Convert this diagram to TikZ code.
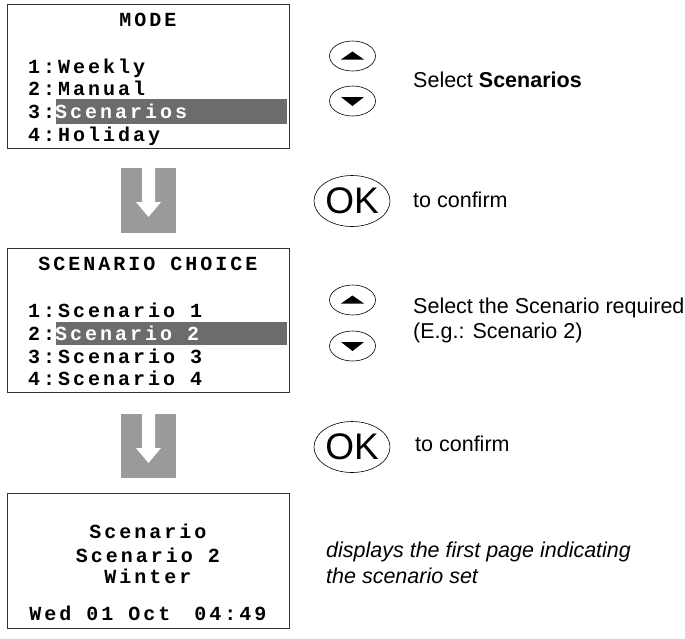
\documentclass[tikz,border=0pt]{standalone}
\usepackage{fontspec}
\setmainfont{Liberation Sans}
\newfontfamily\lcdfont[LetterSpace=15]{Liberation Mono}
\usetikzlibrary{shapes.geometric}
\definecolor{arrowgray}{HTML}{9A9A9B}
\definecolor{selgray}{HTML}{6C6C6D}
\definecolor{framegray}{HTML}{333333}
\tikzset{
  lcd/.style={font=\lcdfont\bfseries\fontsize{20}{20}\selectfont,inner sep=0pt},
  desc/.style={font=\fontsize{21.5}{25}\selectfont,inner sep=0pt,anchor=base west},
  frame/.style={framegray,line width=1pt},
  btn/.style={draw,ellipse,line width=0.6pt,minimum width=46pt,minimum height=30pt,inner sep=0pt},
  okbtn/.style={draw,ellipse,line width=0.6pt,minimum width=76pt,minimum height=51pt,inner sep=0pt,
    font=\fontsize{37}{37}\selectfont}
}
\begin{document}
\begin{tikzpicture}[x=1pt,y=-1pt]
  \useasboundingbox (0,0) rectangle (685,638);
  % screen 1: mode menu
  \draw[frame] (7,4) rectangle (289,148);
  \fill[selgray] (56,99) rectangle (287,124);
  \node[lcd,anchor=base] (mode) at (148,26) {MODE};
  \node[lcd,anchor=base west] (m1) at (28,73) {1:Weekly};
  \node[lcd,anchor=base west] (m2) at (28,95) {2:Manual};
  \node[lcd,anchor=base west] (m3) at (28,118) {3:\textcolor{white}{Scenarios}};
  \node[lcd,anchor=base west] (m4) at (28,141) {4:Holiday};
  % block arrows
  \begin{scope}
    \fill[arrowgray] (121,168) rectangle (176,233);
    \fill[white] (142,168) -- (155,168) -- (155,202) -- (161,202) -- (148.5,217)
      -- (136,202) -- (142,202) -- cycle;
  \end{scope}
  \begin{scope}[yshift=-246pt]
    \fill[arrowgray] (121,168) rectangle (176,232);
    \fill[white] (142,168) -- (155,168) -- (155,202) -- (161,202) -- (148.5,217)
      -- (136,202) -- (142,202) -- cycle;
  \end{scope}
  % screen 2: scenario choice
  \draw[frame] (7,248) rectangle (289,392);
  \fill[selgray] (56,322) rectangle (287,345);
  \node[lcd,anchor=base] (choice) at (148,270) {SCENARIO CHOICE};
  \node[lcd,anchor=base west] (s1) at (28,317) {1:Scenario 1};
  \node[lcd,anchor=base west] (s2) at (28,340) {2:\textcolor{white}{Scenario 2}};
  \node[lcd,anchor=base west] (s3) at (28,363) {3:Scenario 3};
  \node[lcd,anchor=base west] (s4) at (28,385) {4:Scenario 4};
  % screen 3: result
  \draw[frame] (7,493) rectangle (289,628);
  \node[lcd,anchor=base] (r1) at (148,538) {Scenario};
  \node[lcd,anchor=base] (r2) at (148,562) {Scenario 2};
  \node[lcd,anchor=base] (r3) at (148,583) {Winter};
  \node[lcd,anchor=base] (r4) at (148,620) {Wed 01 Oct\hspace{9pt} 04:49};
  % keys, first step
  \node[btn] (up1) at (352.5,56) {};
  \fill (341,59.5) -- (364,59.5) -- (352.5,51.5) -- cycle;
  \node[btn] (dn1) at (352.5,101) {};
  \fill (341,97) -- (364,97) -- (352.5,106) -- cycle;
  \node[desc] (sel1) at (413,87) {Select \textbf{Scenarios}};
  \node[okbtn] (ok1) at (352,201) {OK};
  \node[desc] (conf1) at (413,207) {to confirm};
  % keys, second step
  \node[btn] (up2) at (352.5,300) {};
  \fill (341,303.5) -- (364,303.5) -- (352.5,295.5) -- cycle;
  \node[btn] (dn2) at (352.5,346) {};
  \fill (341,342) -- (364,342) -- (352.5,351) -- cycle;
  \node[desc] (sel2a) at (413,313) {Select the Scenario required};
  \node[desc] (sel2b) at (413,338) {(E.g.: Scenario 2)};
  \node[okbtn] (ok2) at (352,447) {OK};
  \node[desc] (conf2) at (415,451) {to confirm};
  % closing note
  \node[desc,font=\fontsize{21.5}{25}\selectfont\itshape] (note1) at (326,557) {displays the first page indicating};
  \node[desc,font=\fontsize{21.5}{25}\selectfont\itshape] (note2) at (326,583) {the scenario set};
\end{tikzpicture}
\end{document}
